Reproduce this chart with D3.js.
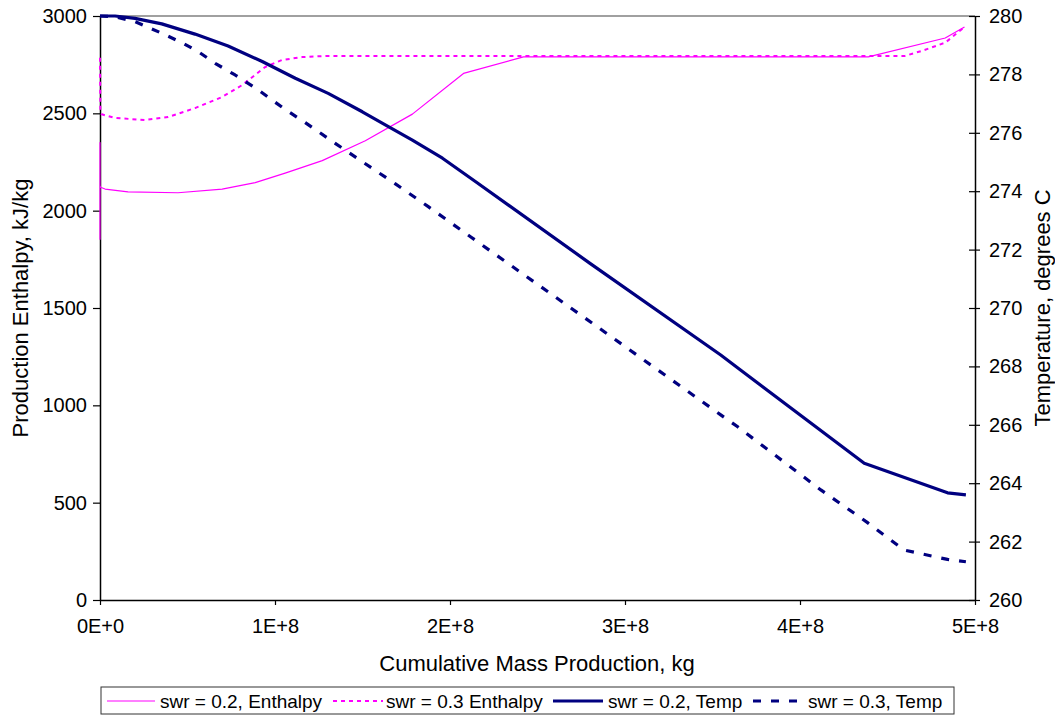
<!DOCTYPE html>
<html>
<head>
<meta charset="utf-8">
<script src="https://cdn.jsdelivr.net/npm/d3@7"></script>
<style>
  body { margin: 0; background: #fff; }
  svg { font-family: "Liberation Sans", Arial, sans-serif; }
</style>
</head>
<body>
<svg width="1055" height="717"></svg>
<script>
// cumulative mass production (units of 1E+8 kg) and the series
const massEnth02 = [0, 0, 0, 0.003, 0.029, 0.16, 0.446, 0.698, 0.887, 1.058, 1.27, 1.516, 1.785, 2.077, 2.42, 4.39, 4.83, 4.94];
const enth02 = [1850, 2350, 2130, 2120, 2111, 2097, 2092, 2111, 2144, 2193, 2257, 2359, 2496, 2705, 2790, 2790, 2887, 2943];

const massEnth03 = [0, 0.002, 0.01, 0.086, 0.257, 0.389, 0.543, 0.698, 0.812, 0.944, 1.04, 1.156, 1.3, 4.6, 4.70, 4.83, 4.94];
const enth03 = [2785, 2510, 2495, 2476, 2466, 2481, 2527, 2584, 2645, 2738, 2774, 2789, 2795, 2795, 2822, 2863, 2943];

const massTemp02 = [0, 0.086, 0.2, 0.353, 0.543, 0.732, 0.927, 1.116, 1.304, 1.499, 1.648, 1.785, 1.957, 2.145, 2.80, 3.547, 3.66, 4.367, 4.843, 4.948];
const temp02 = [280, 280, 279.92, 279.73, 279.38, 278.97, 278.44, 277.87, 277.35, 276.72, 276.21, 275.75, 275.13, 274.33, 271.53, 268.39, 267.88, 264.68, 263.67, 263.6];

const massTemp03 = [0, 0.086, 0.2, 0.353, 0.467, 0.561, 0.658, 0.772, 0.904, 1.058, 1.173, 1.344, 1.499, 1.688, 1.876, 2.117, 2.841, 3.547, 3.642, 4.119, 4.386, 4.595, 4.843, 4.948];
const temp03 = [280, 279.97, 279.81, 279.41, 279.09, 278.78, 278.38, 277.98, 277.47, 276.80, 276.35, 275.64, 275.01, 274.25, 273.47, 272.44, 269.36, 266.34, 265.94, 263.77, 262.65, 261.71, 261.39, 261.31];

const xTicks = [0, 1, 2, 3, 4, 5];
const xTickLabels = ["0E+0", "1E+8", "2E+8", "3E+8", "4E+8", "5E+8"];
const leftTicks = [0, 500, 1000, 1500, 2000, 2500, 3000];
const rightTicks = [260, 262, 264, 266, 268, 270, 272, 274, 276, 278, 280];

const seriesNames = ["swr = 0.2, Enthalpy", "swr = 0.3 Enthalpy", "swr = 0.2, Temp", "swr = 0.3, Temp"];

// plot area
const pLeft = 100, pRight = 975, pTop = 16, pBottom = 600;
const svg = d3.select("svg");
svg.append("rect").attr("width", 1055).attr("height", 717).attr("fill", "#fff");

const x = d3.scaleLinear().domain([0, 5]).range([pLeft, pRight]);
const yL = d3.scaleLinear().domain([0, 3000]).range([pBottom, pTop]);
const yR = d3.scaleLinear().domain([260, 280]).range([pBottom, pTop]);

// plot border top
svg.append("line").attr("x1", pLeft).attr("x2", pRight).attr("y1", pTop).attr("y2", pTop)
    .attr("stroke", "#808080").attr("stroke-width", 1.5);

// axes
const axL = svg.append("g").attr("transform", `translate(${pLeft},0)`)
    .call(d3.axisLeft(yL).tickValues(leftTicks).tickFormat(d3.format("d")).tickSize(7).tickPadding(6).tickSizeOuter(0));
const axR = svg.append("g").attr("transform", `translate(${pRight},0)`)
    .call(d3.axisRight(yR).tickValues(rightTicks).tickFormat(d3.format("d")).tickSize(5).tickPadding(9).tickSizeOuter(0));
const axB = svg.append("g").attr("transform", `translate(0,${pBottom})`)
    .call(d3.axisBottom(x).tickValues(xTicks).tickFormat((d, i) => xTickLabels[i]).tickSize(5).tickPadding(14).tickSizeOuter(0));

// right axis ticks cross the line
axR.selectAll(".tick line").attr("x1", -6);

[axL, axR, axB].forEach(a => {
  a.select(".domain").attr("stroke", "#000").attr("stroke-width", 1.5);
  a.selectAll(".tick line").attr("stroke", "#000").attr("stroke-width", 1.2);
  a.selectAll("text").attr("font-size", 20).attr("fill", "#000")
    .attr("font-family", '"Liberation Sans", Arial, sans-serif');
});

// axis titles
svg.append("text").attr("x", 537).attr("y", 671).attr("text-anchor", "middle")
    .attr("font-size", 22).text("Cumulative Mass Production, kg");
svg.append("text").attr("transform", `translate(28,${(pTop + pBottom) / 2}) rotate(-90)`)
    .attr("text-anchor", "middle").attr("font-size", 22).text("Production Enthalpy, kJ/kg");
svg.append("text").attr("transform", `translate(1050,${(pTop + pBottom) / 2}) rotate(-90)`)
    .attr("text-anchor", "middle").attr("font-size", 22).text("Temperature, degrees C");

// series
const lineL = d3.line().x(d => x(d[0])).y(d => yL(d[1]));
const lineR = d3.line().x(d => x(d[0])).y(d => yR(d[1]));

const styles = [
  { color: "#FF00FF", width: 1.2, dash: null },
  { color: "#FF00FF", width: 2, dash: "4,4" },
  { color: "#000080", width: 3.2, dash: null },
  { color: "#000080", width: 3.2, dash: "8,10" }
];

const plotted = [
  { path: lineL(d3.zip(massEnth02, enth02)), s: styles[0] },
  { path: lineL(d3.zip(massEnth03, enth03)), s: styles[1] },
  { path: lineR(d3.zip(massTemp02, temp02)), s: styles[2] },
  { path: lineR(d3.zip(massTemp03, temp03)), s: styles[3] }
];

plotted.forEach(p => {
  svg.append("path").attr("d", p.path).attr("fill", "none")
      .attr("stroke", p.s.color).attr("stroke-width", p.s.width)
      .attr("stroke-dasharray", p.s.dash).attr("stroke-linejoin", "round");
});

// legend
svg.append("rect").attr("x", 101).attr("y", 687).attr("width", 853).attr("height", 27)
    .attr("fill", "#fff").attr("stroke", "#333").attr("stroke-width", 1);
const legX = [[107, 155, 160], [333, 383, 386], [553, 603, 608], [753, 798, 808]];
seriesNames.forEach((name, i) => {
  svg.append("line").attr("x1", legX[i][0]).attr("x2", legX[i][1]).attr("y1", 701).attr("y2", 701)
      .attr("stroke", styles[i].color).attr("stroke-width", styles[i].width)
      .attr("stroke-dasharray", styles[i].dash);
  svg.append("text").attr("x", legX[i][2]).attr("y", 708).attr("font-size", 19).text(name);
});
</script>
</body>
</html>
